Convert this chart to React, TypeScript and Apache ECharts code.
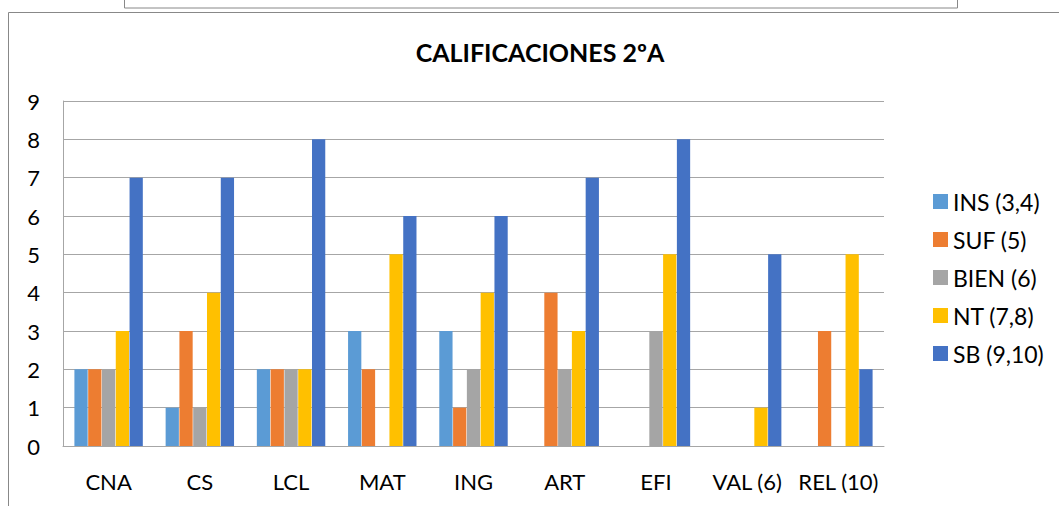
import React, { useEffect, useRef } from "react";
import * as echarts from "echarts";

const categories = ["CNA", "CS", "LCL", "MAT", "ING", "ART", "EFI", "VAL (6)", "REL (10)"];
const seriesNames = ["INS (3,4)", "SUF (5)", "BIEN (6)", "NT (7,8)", "SB (9,10)"];
const ins = [2, 1, 2, 3, 3, 0, 0, 0, 0];
const suf = [2, 3, 2, 2, 1, 4, 0, 0, 3];
const bien = [2, 1, 2, 0, 2, 2, 3, 0, 0];
const nt = [3, 4, 2, 5, 4, 3, 5, 1, 5];
const sb = [7, 7, 8, 6, 6, 7, 8, 5, 2];
const colors = ["#5B9BD5", "#ED7D31", "#A5A5A5", "#FFC000", "#4472C4"];
const titleText = "CALIFICACIONES 2ºA";

const FONT = "Lato, 'Noto Sans', sans-serif";

export default function App() {
  const ref = useRef<HTMLDivElement>(null);
  useEffect(() => {
    if (!ref.current) return;
    const chart = echarts.init(ref.current, null, { renderer: "svg" });
    const values = [ins, suf, bien, nt, sb];
    chart.setOption({
      animation: false,
      backgroundColor: "#ffffff",
      textStyle: { fontFamily: FONT },
      grid: { left: 63, top: 101, width: 821, height: 345, containLabel: false },
      xAxis: {
        type: "category",
        data: categories,
        axisLine: { show: true, lineStyle: { color: "#a6a6a6", width: 1 } },
        axisTick: { show: false },
        axisLabel: { color: "#000", fontSize: 22, margin: 24, fontFamily: FONT, interval: 0, hideOverlap: false },
      },
      yAxis: {
        type: "value",
        min: 0,
        max: 9,
        interval: 1,
        axisLine: { show: true, lineStyle: { color: "#a6a6a6", width: 1 } },
        axisTick: { show: false },
        axisLabel: { color: "#000", fontSize: 22, margin: 23, fontFamily: FONT },
        splitLine: { show: true, lineStyle: { color: "#a6a6a6", width: 1 } },
      },
      legend: {
        orient: "vertical",
        left: 928,
        top: 185,
        itemWidth: 15,
        itemHeight: 15,
        itemGap: 15,
        icon: "rect",
        data: seriesNames,
        textStyle: { color: "#000", fontSize: 23, lineHeight: 23, fontFamily: FONT },
      },
      series: seriesNames.map((n, i) => ({
        name: n,
        type: "bar",
        data: values[i],
        barCategoryGap: "25%",
        barGap: "4%",
        itemStyle: { color: colors[i] },
      })),
      graphic: [
        {
          type: "rect",
          shape: { x: 124.5, y: -5, width: 833, height: 13 },
          style: { fill: "#fff", stroke: "#888", lineWidth: 1 },
          silent: true,
        },
        {
          type: "rect",
          shape: { x: 8.5, y: 12.5, width: 1100, height: 600 },
          style: { fill: "none", stroke: "#888", lineWidth: 1 },
          silent: true,
        },
        {
          type: "text",
          x: 540,
          y: 52,
          style: {
            text: titleText,
            fill: "#000",
            font: "bold 25px " + FONT,
            textAlign: "center",
            textVerticalAlign: "middle",
          },
        },
      ],
    });
    return () => chart.dispose();
  }, []);
  return (
    <div
      ref={ref}
      style={{ position: "fixed", left: 0, top: 0, width: 1059, height: 506 }}
    />
  );
}
